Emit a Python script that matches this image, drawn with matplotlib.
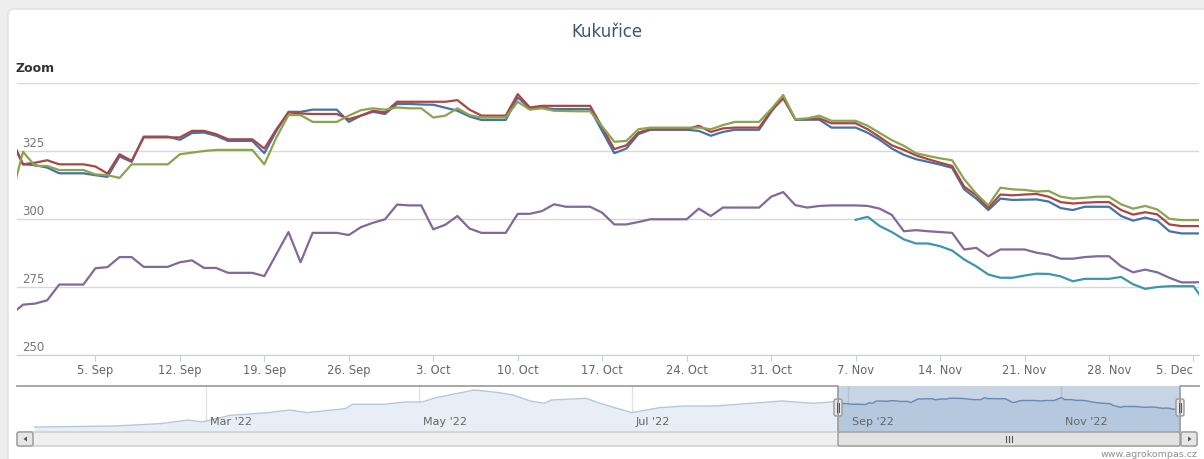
import numpy as np
import pandas as pd
import matplotlib
matplotlib.use('Agg')
import matplotlib.pyplot as plt
import matplotlib.dates as mdates
from matplotlib.ticker import FuncFormatter
from matplotlib.patches import Rectangle, FancyBboxPatch, Polygon

# daily values from 29 Aug 2022 to 6 Dec 2022
start = '2022-08-29'
blue = [329.0, 320.1, 319.8, 318.9, 316.8, 316.8, 316.8, 316.1, 315.5, 323.0,
        321.0, 330.3, 330.3, 330.3, 329.1, 331.6, 331.8, 330.6, 328.7, 328.7,
        328.7, 324.2, 332.4, 339.4, 339.4, 340.2, 340.2, 340.2, 335.7, 338.0,
        339.4, 338.6, 342.3, 342.3, 342.1, 342.0, 340.9, 339.8, 337.7, 336.4,
        336.4, 336.4, 344.7, 340.7, 341.0, 340.4, 340.4, 340.4, 340.4, 332.3,
        324.2, 325.9, 331.2, 332.8, 332.8, 332.8, 332.8, 332.4, 330.6, 332.0,
        332.8, 332.8, 332.8, 339.4, 345.1, 336.5, 336.5, 336.5, 333.6, 333.6,
        333.6, 331.7, 329.1, 325.9, 323.6, 322.0, 321.0, 320.0, 318.8, 310.9,
        307.5, 303.3, 307.5, 307.0, 307.1, 307.2, 306.4, 304.0, 303.3, 304.5,
        304.5, 304.5, 301.1, 299.4, 300.5, 299.4, 295.5, 294.7, 294.7, 294.7]
red = [329.9, 320.1, 320.7, 321.6, 320.1, 320.1, 320.1, 319.3, 316.7, 323.8,
       321.4, 330.0, 330.0, 330.0, 330.0, 332.4, 332.4, 331.2, 329.3, 329.3,
       329.3, 325.9, 333.0, 339.2, 338.8, 338.6, 338.6, 338.6, 336.7, 338.0,
       339.8, 339.2, 343.1, 343.1, 343.1, 343.1, 343.1, 343.7, 340.2, 338.0,
       338.0, 338.0, 345.9, 341.0, 341.6, 341.6, 341.6, 341.6, 341.6, 333.7,
       325.7, 327.1, 331.8, 333.0, 333.0, 333.0, 333.0, 334.3, 332.0, 333.3,
       333.6, 333.6, 333.6, 339.8, 344.3, 336.7, 336.7, 337.0, 335.2, 335.2,
       335.2, 333.0, 330.1, 327.1, 325.4, 323.4, 322.0, 320.7, 319.5, 311.9,
       308.7, 304.1, 309.0, 308.7, 309.0, 309.2, 308.2, 306.2, 305.7, 306.0,
       306.2, 306.2, 303.3, 301.6, 302.5, 301.7, 298.0, 297.4, 297.4, 297.4]
green = [307.7, 324.7, 319.5, 319.5, 318.0, 318.0, 318.0, 316.4, 316.1, 315.1,
         320.1, 320.1, 320.1, 320.1, 323.8, 324.4, 325.0, 325.4, 325.4, 325.4,
         325.4, 320.1, 330.0, 338.2, 338.2, 335.7, 335.7, 335.7, 338.0, 340.0,
         340.7, 340.2, 341.0, 340.7, 340.7, 337.3, 338.0, 340.7, 338.2, 337.3,
         337.3, 337.3, 343.1, 340.2, 340.7, 339.8, 339.7, 339.6, 339.6, 334.0,
         328.4, 328.7, 333.0, 333.6, 333.6, 333.6, 333.6, 333.6, 333.0, 334.5,
         335.7, 335.7, 335.7, 340.4, 345.6, 336.7, 337.0, 338.0, 336.1, 336.1,
         336.1, 334.3, 331.6, 329.0, 326.9, 324.2, 323.2, 322.3, 321.6, 314.6,
         309.3, 305.0, 311.5, 310.9, 310.7, 310.1, 310.3, 308.2, 307.5, 307.8,
         308.2, 308.2, 305.4, 303.8, 304.8, 303.5, 300.1, 299.6, 299.6, 299.6]
purple = [264.9, 268.5, 268.9, 270.1, 275.9, 275.9, 275.9, 281.9, 282.3, 286.0,
          286.0, 282.4, 282.4, 282.4, 284.1, 284.8, 282.0, 282.0, 280.2, 280.2,
          280.2, 279.0, 287.1, 295.2, 284.1, 294.9, 294.9, 294.9, 294.1, 297.0,
          298.6, 299.9, 305.3, 305.0, 305.0, 296.2, 297.9, 301.1, 296.5, 294.9,
          294.9, 294.9, 301.9, 301.9, 302.9, 305.4, 304.5, 304.5, 304.5, 302.3,
          298.0, 298.0, 298.9, 299.9, 299.9, 299.9, 299.9, 303.8, 301.1, 304.2,
          304.2, 304.2, 304.2, 308.2, 309.9, 305.1, 304.2, 304.8, 305.0, 305.0,
          305.0, 304.8, 303.8, 301.5, 295.5, 295.9, 295.5, 295.2, 294.9, 288.8,
          289.4, 286.3, 288.8, 288.8, 288.8, 287.6, 286.9, 285.4, 285.4, 286.0,
          286.3, 286.3, 282.6, 280.4, 281.4, 280.4, 278.4, 276.7, 276.7, 276.9]
# daily values from 7 Nov 2022 to 6 Dec 2022
cyan_start = '2022-11-07'
cyan = [299.7, 300.8, 297.4, 295.2, 292.5, 291.0, 291.0, 290.0, 288.4, 285.1,
        282.6, 279.6, 278.4, 278.4, 279.2, 279.9, 279.8, 278.9, 277.1, 278.0,
        278.0, 278.0, 278.7, 276.0, 274.3, 275.0, 275.3, 275.3, 275.3, 269.1]

# navigator series before the zoomed window
nav_dates = ['2022-01-11', '2022-02-03', '2022-02-16', '2022-02-24', '2022-02-28',
             '2022-03-08', '2022-03-19', '2022-03-25', '2022-03-30', '2022-04-10',
             '2022-04-12', '2022-04-21', '2022-04-27', '2022-05-02', '2022-05-06',
             '2022-05-17', '2022-05-24', '2022-05-28', '2022-06-02', '2022-06-06',
             '2022-06-08', '2022-06-18', '2022-06-22', '2022-07-01', '2022-07-09',
             '2022-07-16', '2022-07-25', '2022-08-04', '2022-08-13', '2022-08-22']
nav_vals = [219.0, 223.5, 233.5, 249.0, 240.6, 269.0, 280.7, 292.0, 280.7, 297.8,
            316.4, 316.4, 326.4, 326.4, 345.0, 378.0, 366.5, 356.4, 330.7, 320.7,
            335.0, 342.0, 320.7, 280.7, 302.0, 309.3, 309.3, 320.7, 330.7, 320.7]
nav_months = ['2022-03-01', '2022-05-01', '2022-07-01', '2022-09-01', '2022-11-01']

colors = ['#4572A7', '#AA4643', '#89A54E', '#80699B', '#3D96AE']

W, H = 1204, 460
fig = plt.figure(figsize=(W / 100, H / 100), dpi=100, facecolor='#eeeeee')


def px_axes(x0, y0, x1, y1, z=1):
    return fig.add_axes([x0 / W, 1 - y1 / H, (x1 - x0) / W, (y1 - y0) / H], zorder=z)


# background / frame layer in pixel coordinates
bg = px_axes(0, 0, W, H, z=0)
bg.set_xlim(0, W)
bg.set_ylim(H, 0)
bg.axis('off')
bg.add_patch(FancyBboxPatch((8, 10), W, H, boxstyle='round,pad=0,rounding_size=6',
                            fc='white', ec='#e0e0e0', lw=1))
bg.text(607, 32, 'Kukuřice', ha='center', va='center', fontsize=12, color='#3E576F')
bg.text(15, 68, 'Zoom', ha='left', va='center', fontsize=9, fontweight='bold', color='#333333')
bg.text(1198, 455, 'www.agrokompas.cz', ha='right', va='center', fontsize=6.8, color='#909090')

dates = pd.date_range(start, periods=len(blue), freq='D')
cdates = pd.date_range(cyan_start, periods=len(cyan), freq='D')

# main chart
ax = px_axes(17, 84, 1199, 356, z=2)
ax.patch.set_alpha(0)
for vals, c in zip([blue, red, green, purple], colors):
    ax.plot(dates, vals, color=c, lw=1.6, solid_joinstyle='round')
ax.plot(cdates, cyan, color=colors[4], lw=1.6, solid_joinstyle='round')
ax.set_xlim(pd.Timestamp('2022-08-29 12:00'), pd.Timestamp('2022-12-05 11:00'))
ax.set_ylim(250, 350)
ax.set_yticks([250, 275, 300, 325, 350])
ax.grid(axis='y', color='#d8d8d8', lw=1)
ax.tick_params(axis='y', length=0, labelleft=False)
for v in [250, 275, 300, 325]:
    ax.annotate(str(v), xy=(0, v), xycoords=('axes fraction', 'data'), xytext=(4, 1.5),
                textcoords='offset points', ha='left', va='bottom', fontsize=8.5, color='#777777')
ax.xaxis.set_major_locator(mdates.WeekdayLocator(byweekday=mdates.MO))
ax.xaxis.set_major_formatter(FuncFormatter(lambda x, p: '%d. %s' % (mdates.num2date(x).day,
                                                                    mdates.num2date(x).strftime('%b'))))
ax.tick_params(axis='x', length=4, color='#C0D0E0', labelsize=8.3, labelcolor='#666666', pad=2)
for s in ['top', 'left', 'right']:
    ax.spines[s].set_visible(False)
ax.spines['bottom'].set_color('#C0D0E0')
fig.canvas.draw()
for lab in ax.get_xticklabels():
    if lab.get_text() == '5. Dec':
        lab.set_horizontalalignment('right')

# navigator
sel0, sel1 = pd.Timestamp('2022-08-29'), pd.Timestamp('2022-12-05')
nav = px_axes(17, 387, 1180, 432, z=2)
nav.patch.set_alpha(0)
nx = list(pd.to_datetime(nav_dates)) + list(dates[:99])
ny = nav_vals + blue[:99]
nav.fill_between(nx, ny, 0, color='#e8eef5', lw=0)
nav.plot(nx, ny, color='#b7c7db', lw=1)
for m in nav_months:
    mt = pd.Timestamp(m)
    nav.axvline(mt, color='#e3e3e3', lw=1, zorder=0.5)
    nav.annotate(mt.strftime("%b '%y"), xy=(mt, 0), xycoords=('data', 'axes fraction'),
                 xytext=(3, 5), textcoords='offset points', fontsize=8, color='#666666')
nav.axvspan(sel0, sel1, color='#4572A7', alpha=0.3, lw=0)
sel = [(d, v) for d, v in zip(nx, ny) if sel0 <= d <= sel1]
nav.plot([d for d, v in sel], [v for d, v in sel], color='#4572A7', lw=1, alpha=0.7)
nav.set_xlim(pd.Timestamp('2022-01-06'), sel1)
nav.set_ylim(202, 395)
nav.axis('off')

# navigator outline, handles and scrollbar drawn on top layer
top = px_axes(0, 0, W, H, z=3)
top.set_xlim(0, W)
top.set_ylim(H, 0)
top.axis('off')
top.plot([17, 838, 838], [386.5, 386.5, 432], color='#a0a0a0', lw=1.3)
top.plot([1180, 1180, 1199], [432, 386.5, 386.5], color='#a0a0a0', lw=1.3)
top.add_patch(FancyBboxPatch((17, 433), 1180, 14, boxstyle='round,pad=0,rounding_size=2',
                             fc='#f0f0f0', ec='#cccccc', lw=1))
top.add_patch(FancyBboxPatch((838, 433), 342, 14, boxstyle='round,pad=0,rounding_size=2',
                             fc='#e2e2e2', ec='#999999', lw=1))
for gx in [1006, 1009, 1012]:
    top.plot([gx, gx], [437, 443], color='#555555', lw=0.8)
for bx, pts in [(17, [(27, 437.5), (27, 442.5), (23.5, 440)]),
                (1181, [(1188, 437.5), (1188, 442.5), (1191.5, 440)])]:
    top.add_patch(FancyBboxPatch((bx, 433), 16, 14, boxstyle='round,pad=0,rounding_size=2',
                                 fc='#e6e6e6', ec='#999999', lw=1))
    top.add_patch(Polygon(pts, closed=True, fc='#555555', ec='none'))
for hx in [838, 1180]:
    top.add_patch(FancyBboxPatch((hx - 4, 400), 8, 17, boxstyle='round,pad=0,rounding_size=2',
                                 fc='#ebe7e8', ec='#999999', lw=1))
    for gx in [hx - 1.2, hx + 1.2]:
        top.plot([gx, gx], [404, 413], color='#555555', lw=0.7)

fig.savefig('out.png', dpi=100, facecolor=fig.get_facecolor())
